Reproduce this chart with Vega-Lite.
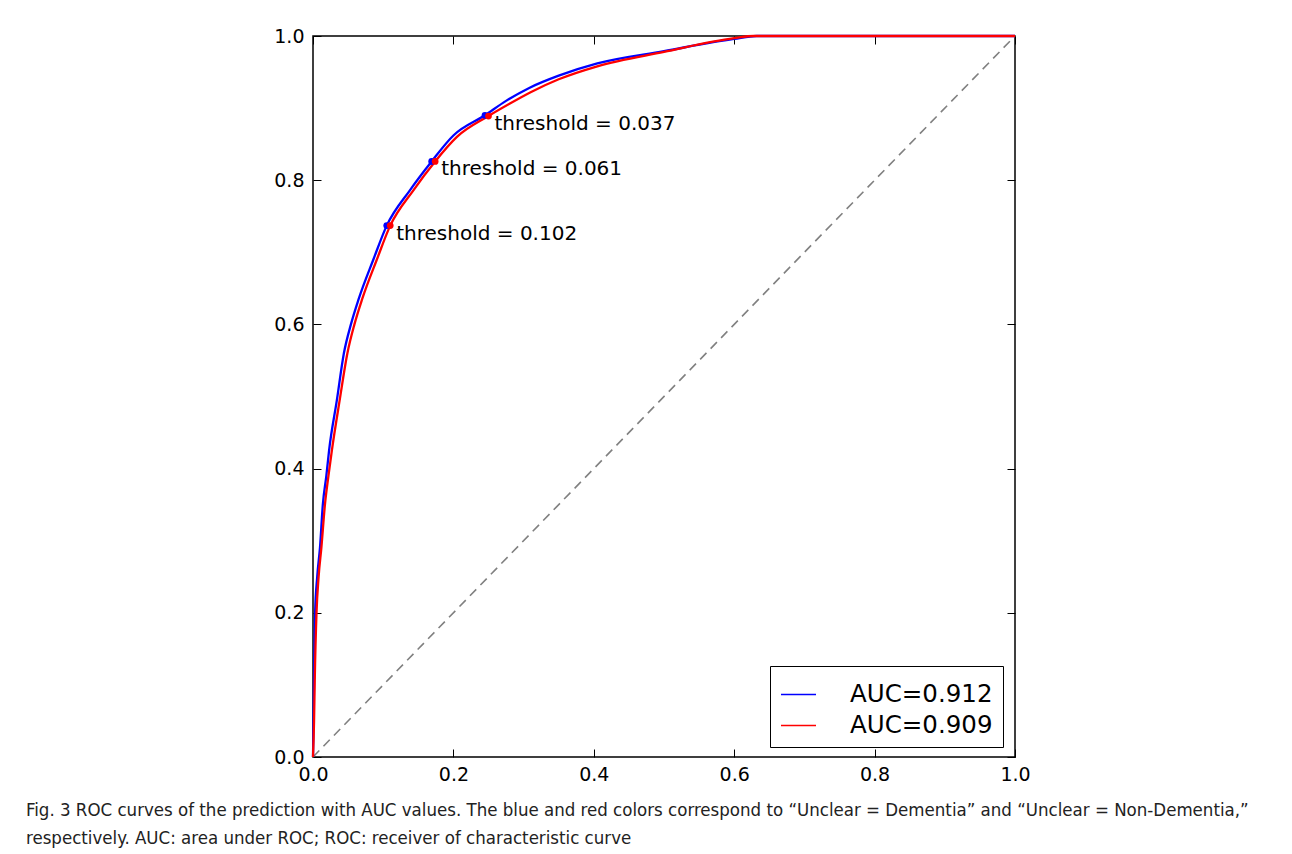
{
  "$schema": "https://vega.github.io/schema/vega-lite/v6.json",
  "width": 702,
  "height": 721,
  "autosize": {"type": "none"},
  "padding": {"left": 313, "top": 36, "right": 277, "bottom": 97},
  "background": "white",
  "config": {
    "font": "DejaVu Sans",
    "view": {"stroke": "black", "strokeWidth": 1.5},
    "axis": {
      "grid": false,
      "domain": false,
      "ticks": true,
      "tickColor": "black",
      "tickSize": -8,
      "tickWidth": 1,
      "labelFontSize": 19,
      "labelColor": "black",
      "labelFont": "DejaVu Sans",
      "labelFlush": false,
      "labelOverlap": false,
      "title": null
    }
  },
  "title": {
    "text": [
      "Fig. 3 ROC curves of the prediction with AUC values. The blue and red colors correspond to “Unclear = Dementia” and “Unclear = Non-Dementia,”",
      "respectively. AUC: area under ROC; ROC: receiver of characteristic curve"
    ],
    "orient": "bottom",
    "anchor": "start",
    "frame": "group",
    "dx": -287,
    "offset": 17,
    "font": "'Liberation Sans Narrow', 'DejaVu Sans Condensed', sans-serif",
    "fontSize": 18.5,
    "fontWeight": "normal",
    "lineHeight": 28,
    "color": "#222222"
  },
  "datasets": {
    "roc": [
      {"series": "AUC=0.912", "fpr": 0, "tpr": 0},
      {"series": "AUC=0.912", "fpr": 0.0008, "tpr": 0.05},
      {"series": "AUC=0.912", "fpr": 0.0015, "tpr": 0.107},
      {"series": "AUC=0.912", "fpr": 0.003, "tpr": 0.2},
      {"series": "AUC=0.912", "fpr": 0.006, "tpr": 0.25},
      {"series": "AUC=0.912", "fpr": 0.01, "tpr": 0.291},
      {"series": "AUC=0.912", "fpr": 0.014, "tpr": 0.35},
      {"series": "AUC=0.912", "fpr": 0.019, "tpr": 0.39},
      {"series": "AUC=0.912", "fpr": 0.023, "tpr": 0.426},
      {"series": "AUC=0.912", "fpr": 0.034, "tpr": 0.495},
      {"series": "AUC=0.912", "fpr": 0.044, "tpr": 0.56},
      {"series": "AUC=0.912", "fpr": 0.054, "tpr": 0.6},
      {"series": "AUC=0.912", "fpr": 0.065, "tpr": 0.635},
      {"series": "AUC=0.912", "fpr": 0.086, "tpr": 0.69},
      {"series": "AUC=0.912", "fpr": 0.105, "tpr": 0.737},
      {"series": "AUC=0.912", "fpr": 0.138, "tpr": 0.786},
      {"series": "AUC=0.912", "fpr": 0.169, "tpr": 0.826},
      {"series": "AUC=0.912", "fpr": 0.2, "tpr": 0.862},
      {"series": "AUC=0.912", "fpr": 0.245, "tpr": 0.89},
      {"series": "AUC=0.912", "fpr": 0.275, "tpr": 0.91},
      {"series": "AUC=0.912", "fpr": 0.308, "tpr": 0.928},
      {"series": "AUC=0.912", "fpr": 0.35, "tpr": 0.945},
      {"series": "AUC=0.912", "fpr": 0.405, "tpr": 0.962},
      {"series": "AUC=0.912", "fpr": 0.5, "tpr": 0.979},
      {"series": "AUC=0.912", "fpr": 0.6, "tpr": 0.996},
      {"series": "AUC=0.912", "fpr": 0.632, "tpr": 1.0},
      {"series": "AUC=0.912", "fpr": 1.0, "tpr": 1.0},
      {"series": "AUC=0.909", "fpr": 0, "tpr": 0},
      {"series": "AUC=0.909", "fpr": 0.0015, "tpr": 0.05},
      {"series": "AUC=0.909", "fpr": 0.0025, "tpr": 0.107},
      {"series": "AUC=0.909", "fpr": 0.005, "tpr": 0.2},
      {"series": "AUC=0.909", "fpr": 0.008, "tpr": 0.25},
      {"series": "AUC=0.909", "fpr": 0.012, "tpr": 0.291},
      {"series": "AUC=0.909", "fpr": 0.017, "tpr": 0.35},
      {"series": "AUC=0.909", "fpr": 0.022, "tpr": 0.39},
      {"series": "AUC=0.909", "fpr": 0.027, "tpr": 0.426},
      {"series": "AUC=0.909", "fpr": 0.038, "tpr": 0.495},
      {"series": "AUC=0.909", "fpr": 0.049, "tpr": 0.56},
      {"series": "AUC=0.909", "fpr": 0.059, "tpr": 0.6},
      {"series": "AUC=0.909", "fpr": 0.07, "tpr": 0.635},
      {"series": "AUC=0.909", "fpr": 0.091, "tpr": 0.69},
      {"series": "AUC=0.909", "fpr": 0.11, "tpr": 0.737},
      {"series": "AUC=0.909", "fpr": 0.143, "tpr": 0.786},
      {"series": "AUC=0.909", "fpr": 0.174, "tpr": 0.826},
      {"series": "AUC=0.909", "fpr": 0.205, "tpr": 0.86},
      {"series": "AUC=0.909", "fpr": 0.25, "tpr": 0.889},
      {"series": "AUC=0.909", "fpr": 0.28, "tpr": 0.906},
      {"series": "AUC=0.909", "fpr": 0.31, "tpr": 0.922},
      {"series": "AUC=0.909", "fpr": 0.35, "tpr": 0.94},
      {"series": "AUC=0.909", "fpr": 0.405, "tpr": 0.958},
      {"series": "AUC=0.909", "fpr": 0.5, "tpr": 0.978},
      {"series": "AUC=0.909", "fpr": 0.6, "tpr": 0.997},
      {"series": "AUC=0.909", "fpr": 0.628, "tpr": 1.0},
      {"series": "AUC=0.909", "fpr": 1.0, "tpr": 1.0}
    ],
    "thr": [
      {"series": "AUC=0.912", "fpr": 0.105, "tpr": 0.737, "label": ""},
      {"series": "AUC=0.912", "fpr": 0.169, "tpr": 0.826, "label": ""},
      {"series": "AUC=0.912", "fpr": 0.245, "tpr": 0.89, "label": ""},
      {"series": "AUC=0.909", "fpr": 0.11, "tpr": 0.737, "label": "threshold = 0.102"},
      {"series": "AUC=0.909", "fpr": 0.174, "tpr": 0.826, "label": "threshold = 0.061"},
      {"series": "AUC=0.909", "fpr": 0.25, "tpr": 0.889, "label": "threshold = 0.037"}
    ],
    "diag": [
      {"fpr": 0, "tpr": 0},
      {"fpr": 1, "tpr": 1}
    ]
  },
  "layer": [
    {
      "data": {"name": "diag"},
      "mark": {"type": "line", "color": "#808080", "strokeWidth": 1.6, "strokeDash": [9, 6]},
      "encoding": {
        "x": {"field": "fpr", "type": "quantitative", "scale": {"domain": [0, 1]}, "axis": {"orient": "top", "labels": false, "values": [0, 0.2, 0.4, 0.6, 0.8, 1]}},
        "y": {"field": "tpr", "type": "quantitative", "scale": {"domain": [0, 1]}, "axis": {"orient": "right", "labels": false, "values": [0, 0.2, 0.4, 0.6, 0.8, 1]}}
      }
    },
    {
      "data": {"name": "roc"},
      "mark": {"type": "line", "strokeWidth": 2.3, "interpolate": "monotone"},
      "encoding": {
        "x": {"field": "fpr", "type": "quantitative", "scale": {"domain": [0, 1]}, "axis": {"orient": "bottom", "labelPadding": 16, "values": [0, 0.2, 0.4, 0.6, 0.8, 1], "format": ".1f"}},
        "y": {"field": "tpr", "type": "quantitative", "scale": {"domain": [0, 1]}, "axis": {"orient": "left", "labelPadding": 17, "values": [0, 0.2, 0.4, 0.6, 0.8, 1], "format": ".1f"}},
        "color": {
          "field": "series",
          "type": "nominal",
          "scale": {"domain": ["AUC=0.912", "AUC=0.909"], "range": ["#0000ff", "#ff0000"]},
          "legend": {
            "title": null,
            "orient": "none",
            "legendX": 457,
            "legendY": 630,
            "symbolType": "stroke",
            "symbolSize": 1225,
            "symbolStrokeWidth": 1.6,
            "labelFontSize": 24.5,
            "labelFont": "DejaVu Sans",
            "labelColor": "black",
            "labelOffset": 33,
            "strokeColor": "black",
            "fillColor": "white",
            "padding": 10,
            "rowPadding": 1,
            "cornerRadius": 0
          }
        },
        "order": {"field": "fpr", "type": "quantitative"}
      }
    },
    {
      "data": {"name": "thr"},
      "mark": {"type": "point", "filled": true, "opacity": 1, "size": 45},
      "encoding": {
        "x": {"field": "fpr", "type": "quantitative", "axis": null},
        "y": {"field": "tpr", "type": "quantitative", "axis": null},
        "color": {"field": "series", "type": "nominal", "legend": null}
      }
    },
    {
      "data": {"name": "thr"},
      "mark": {"type": "text", "align": "left", "baseline": "middle", "dx": 6, "dy": 8, "fontSize": 20, "font": "DejaVu Sans", "color": "black"},
      "encoding": {
        "x": {"field": "fpr", "type": "quantitative", "axis": null},
        "y": {"field": "tpr", "type": "quantitative", "axis": null},
        "text": {"field": "label"}
      }
    }
  ]
}
